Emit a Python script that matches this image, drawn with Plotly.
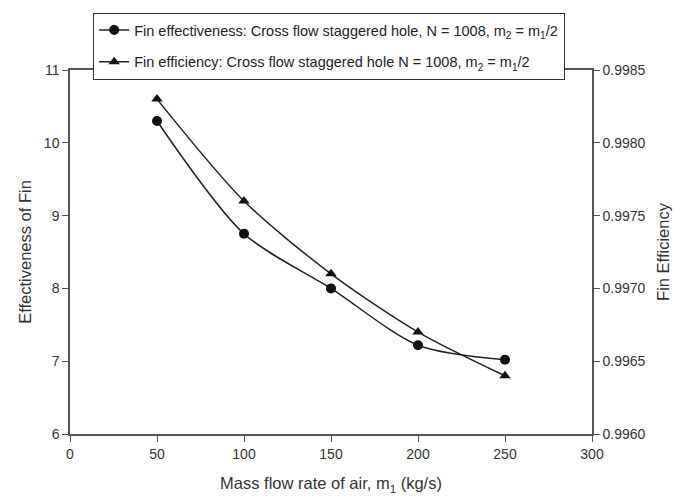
import plotly.graph_objects as go

mass_flow = [50, 100, 150, 200, 250]
effectiveness = [10.30, 8.75, 8.00, 7.22, 7.02]
efficiency = [0.99830, 0.99760, 0.99710, 0.99670, 0.99640]

name_eff = "Fin effectiveness: Cross flow staggered hole, N = 1008, m<sub>2</sub> = m<sub>1</sub>/2"
name_effi = "Fin efficiency: Cross flow staggered hole N = 1008, m<sub>2</sub> = m<sub>1</sub>/2"

fam = "Liberation Sans, Arial, sans-serif"
font = dict(family=fam, size=14, color="#333")
title_font = dict(family=fam, size=16.5, color="#333")
lc = "#222"

fig = go.Figure()
fig.add_trace(go.Scatter(
    x=mass_flow, y=effectiveness, name=name_eff, mode="lines+markers",
    legendgroup="a",
    line=dict(color=lc, width=1.5, shape="spline", smoothing=0.8),
    marker=dict(symbol="circle", size=10, color="#111"),
))
fig.add_trace(go.Scatter(
    x=mass_flow, y=efficiency, name=name_effi, mode="lines+markers", yaxis="y2",
    legendgroup="b",
    line=dict(color=lc, width=1.5, shape="spline", smoothing=0.8),
    marker=dict(symbol="triangle-up", size=10, color="#111"),
))

axis_common = dict(showline=True, linecolor="#555", linewidth=1.5, ticks="outside",
                   ticklen=6, tickcolor="#555", tickwidth=1.2, showgrid=False,
                   zeroline=False, tickfont=font, automargin=False)

fig.update_layout(
    width=679, height=496,
    margin=dict(l=70, r=87, t=70, b=62),
    paper_bgcolor="white", plot_bgcolor="white",
    font=font,
    showlegend=True,
    legend=dict(x=0.044, y=1.157, xanchor="left", yanchor="top",
                bgcolor="white", bordercolor="#333", borderwidth=1.2,
                font=dict(family=fam, size=14.5, color="#222"),
                traceorder="grouped", tracegroupgap=10, itemwidth=30),
    xaxis=dict(range=[0, 300], dtick=50, mirror=True,
               title=dict(text="Mass flow rate of air, m<sub>1</sub> (kg/s)", font=title_font, standoff=17),
               **axis_common),
    yaxis=dict(range=[6, 11], dtick=1,
               title=dict(text="Effectiveness of Fin", font=title_font, standoff=8),
               **axis_common),
    yaxis2=dict(range=[0.996, 0.9985], dtick=0.0005, tickformat=".4f",
                overlaying="y", side="right",
                title=dict(text="Fin Efficiency", font=title_font, standoff=13),
                **axis_common),
)

fig.write_html("out.html")
